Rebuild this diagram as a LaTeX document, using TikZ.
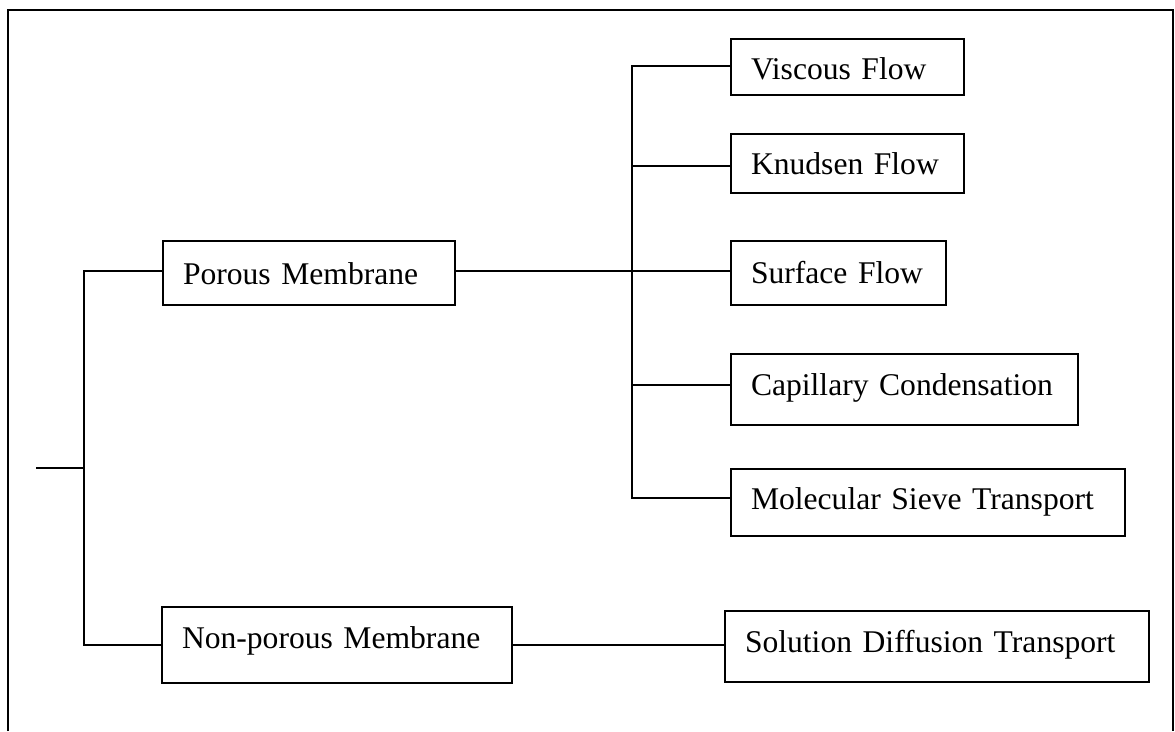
\documentclass[tikz,border=0pt]{standalone}
\usepackage{fontspec}
\setmainfont{Liberation Serif}
\begin{document}
\begin{tikzpicture}[x=1pt,y=-1pt,
  lw/.style={line width=2pt},
  box/.style={draw, lw, anchor=north west, inner ysep=0pt, inner xsep=20pt,
    align=left, font=\fontsize{31.6}{38}\selectfont},
  link/.style={lw}]
\useasboundingbox (0,0) rectangle (1175,731);
\fill[white] (0,0) rectangle (1175,731);
% frame
\draw[lw] (8,731) -- (8,10) -- (1173,10) -- (1173,731);
% nodes
\node[box, text width=252pt, text height=43pt, text depth=21pt] (porous) at (162,240) {Porous Membrane};
\node[box, text width=310pt, text height=41pt, text depth=35pt] (nonporous) at (161,606) {Non-porous Membrane};
\node[box, text width=193pt, text height=40pt, text depth=16pt] (viscous) at (730,38) {Viscous Flow};
\node[box, text width=193pt, text height=40pt, text depth=19pt] (knudsen) at (730,133) {Knudsen Flow};
\node[box, text width=175pt, text height=42pt, text depth=22pt] (surface) at (730,240) {Surface Flow};
\node[box, text width=307pt, text height=41pt, text depth=30pt] (capillary) at (730,353) {Capillary Condensation};
\node[box, text width=354pt, text height=40pt, text depth=27pt] (molecular) at (730,468) {Molecular Sieve Transport};
\node[box, text width=384pt, text height=41pt, text depth=30pt] (solution) at (724,610) {Solution Diffusion Transport};
% junction points
\coordinate (root) at (36,468);
\coordinate (lb) at (84,468);
\coordinate (lp) at (84,271);
\coordinate (ln) at (84,645);
\coordinate (rv) at (632,66);
\coordinate (rk) at (632,166);
\coordinate (rs) at (632,271);
\coordinate (rc) at (632,385);
\coordinate (rm) at (632,498);
% left tree
\draw[link] (root) -- (lb);
\draw[link] (lp -| porous.west) -- (lp) -- (ln) -- (ln -| nonporous.west);
% right tree
\draw[link] (rs -| porous.east) -- (rs -| surface.west);
\draw[link] (rv -| viscous.west) -- (rv) -- (rm) -- (rm -| molecular.west);
\draw[link] (rk) -- (rk -| knudsen.west);
\draw[link] (rc) -- (rc -| capillary.west);
\draw[link] (ln -| nonporous.east) -- (ln -| solution.west);
\end{tikzpicture}
\end{document}
